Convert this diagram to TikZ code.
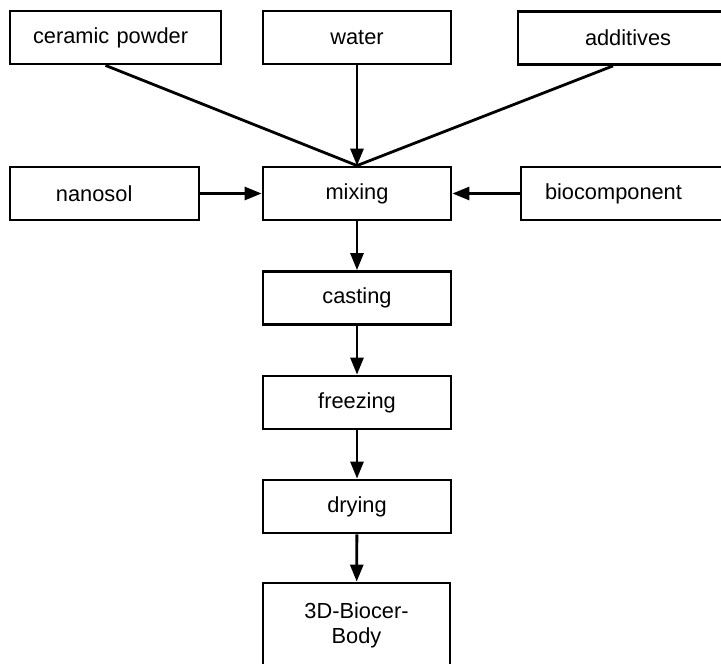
\documentclass[tikz,border=0pt]{standalone}
\usepackage{fontspec}
\setmainfont{Liberation Sans}
\usetikzlibrary{positioning,arrows.meta}

\begin{document}
\begin{tikzpicture}[x=1pt, y=-1pt,
    box/.style={draw, line width=2.8pt, minimum height=53pt, inner sep=0pt,
        font=\fontsize{21.8}{25}\selectfont},
    flow/.style={line width=2.8pt, -{Triangle[length=17pt,width=13pt]}}]
    \useasboundingbox (0,0) rectangle (721,664);
    \clip (0,0) rectangle (721,664);

    \node[box, align=left, text width=165pt, inner xsep=23pt] (ceramic) at (115.5,37.5) {ceramic powder};
    \node[box, minimum width=188pt] (water) at (357,37.5) {water};
    \node[box, align=left, text width=94pt, inner xsep=67pt] (additives) at (632,38) {additives};

    \node[box, align=left, text width=97pt, inner xsep=46pt] (nanosol) at (104.5,193.5) {nanosol};
    \node[box, minimum width=188pt] (mixing) at (357,193.5) {mixing};
    \node[box, align=left, text width=190pt, inner xsep=24pt] (biocomp) at (640,193.5) {biocomponent};

    \node[box, minimum width=188pt] (casting) at (357,298) {casting};
    \node[box, minimum width=188pt] (freezing) at (357,402.5) {freezing};
    \node[box, minimum width=188pt] (drying) at (357,506.5) {drying};
    \node[box, minimum width=187pt, minimum height=84pt, align=center] (body) at (356.5,625) {3D-Biocer-\\Body};

    \draw[line width=2.8pt] ([xshift=-10pt]ceramic.south) -- (mixing.north);
    \draw[line width=2.8pt] ([xshift=-19pt]additives.south) -- (mixing.north);
    \draw[flow] (water) -- (mixing);
    \draw[flow] (nanosol) -- (mixing);
    \draw[flow] (biocomp) -- (mixing);
    \draw[flow] (mixing) -- (casting);
    \draw[flow] (casting) -- (freezing);
    \draw[flow] (freezing) -- (drying);
    \draw[flow] (drying) -- (body);
\end{tikzpicture}
\end{document}
